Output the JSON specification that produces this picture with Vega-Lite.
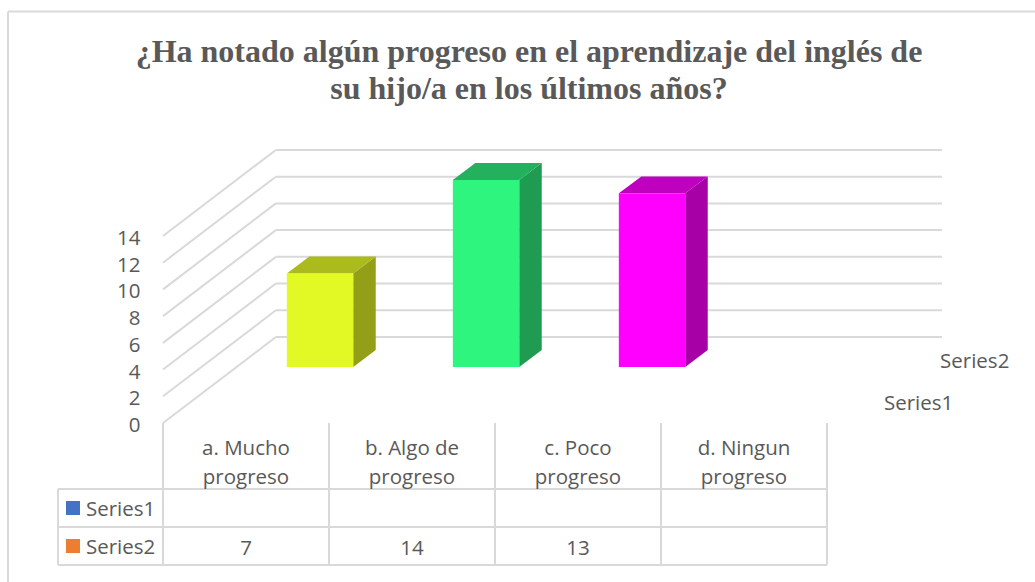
{
"$schema":"https://vega.github.io/schema/vega-lite/v6.json",
"width":1035,"height":582,"padding":0,"autosize":{"type":"none"},"background":"white",
"config":{"view":{"stroke":null},"font":"Open Sans"},
"title":{"text":["¿Ha notado algún progreso en el aprendizaje del inglés de","su hijo/a en los últimos años?"],"font":"Liberation Serif","fontWeight":"bold","fontSize":32,"lineHeight":37,"color":"#595959","anchor":"middle","frame":"group","dx":11.5,"orient":"top","baseline":"top","offset":-106},
"datasets":{
"rows":[
{"category":"a. Mucho progreso","pos":0,"series":"Series1","s":1,"value":null},
{"category":"b. Algo de progreso","pos":1,"series":"Series1","s":1,"value":null},
{"category":"c. Poco progreso","pos":2,"series":"Series1","s":1,"value":null},
{"category":"d. Ningun progreso","pos":3,"series":"Series1","s":1,"value":null},
{"category":"a. Mucho progreso","pos":0,"series":"Series2","s":2,"value":7},
{"category":"b. Algo de progreso","pos":1,"series":"Series2","s":2,"value":14},
{"category":"c. Poco progreso","pos":2,"series":"Series2","s":2,"value":13},
{"category":"d. Ningun progreso","pos":3,"series":"Series2","s":2,"value":null}
],
"ticks":[{"tick":0},{"tick":2},{"tick":4},{"tick":6},{"tick":8},{"tick":10},{"tick":12},{"tick":14}],
"edges":[{"edge":0},{"edge":1},{"edge":2},{"edge":3},{"edge":4}],
"tableRows":[{"line":0},{"line":1},{"line":2}],
"seriesNames":[{"series":"Series1","s":1,"swatch":"#4472C4"},{"series":"Series2","s":2,"swatch":"#ED7D31"}]
},
"resolve":{"scale":{"color":"independent"}},
"layer":[
{"data":{"name":"ticks"},
 "mark":{"type":"rule","color":"#D9D9D9","strokeWidth":2},
 "transform":[{"calculate":"datum.tick+6.437","as":"yBack"}],
 "encoding":{"x":{"datum":0,"type":"quantitative","scale":{"domain":[-0.98193,5.25301],"nice":false,"zero":false},"axis":null},
 "x2":{"datum":0.68},
 "y":{"field":"tick","type":"quantitative","scale":{"domain":[-11.9012,31.6617],"nice":false,"zero":false},
  "axis":{"values":[0,2,4,6,8,10,12,14],"orient":"left","offset":-140,"domain":false,"ticks":false,"grid":false,"labels":true,"labelPadding":0,"labelOffset":2.5,"labelFontSize":20.5,"labelFont":"Open Sans","labelColor":"#595959","title":null}},
 "y2":{"field":"yBack"}}},
{"data":{"name":"ticks"},"transform":[{"calculate":"datum.tick+6.437","as":"yBack"}],
 "mark":{"type":"rule","color":"#D9D9D9","strokeWidth":2},
 "encoding":{"x":{"datum":0.68,"type":"quantitative","scale":{"domain":[-0.98193,5.25301],"nice":false,"zero":false},"axis":null},
 "x2":{"datum":4.693},
 "y":{"field":"yBack","type":"quantitative","scale":{"domain":[-11.9012,31.6617],"nice":false,"zero":false}}}},
{"data":{"name":"rows"},"transform":[{"filter":"isValid(datum.value)"},{"calculate":"datum.pos+0.746","as":"x0"},{"calculate":"datum.x0+0.4","as":"x1"},{"calculate":"datum.value+4.19","as":"yt"},{"calculate":"0","as":"front"},{"calculate":"1","as":"back"},{"fold":["front","back"],"as":["face","d"]},{"calculate":"datum.x1+datum.d*0.1355","as":"fx"},{"calculate":"datum.yt+datum.d*1.27","as":"fy"},{"calculate":"4.19+datum.d*1.27","as":"fb"}],
 "mark":{"type":"area"},
 "encoding":{"x":{"field":"fx","type":"quantitative","scale":{"domain":[-0.98193,5.25301],"nice":false,"zero":false},"axis":null},
 "y":{"field":"fy","type":"quantitative","scale":{"domain":[-11.9012,31.6617],"nice":false,"zero":false}},
 "y2":{"field":"fb"},"detail":{"field":"category"},
 "color":{"field":"category","type":"nominal","legend":null,"scale":{"domain":["a. Mucho progreso","b. Algo de progreso","c. Poco progreso"],"range":["#949F18","#1F9B52","#A600A6"]}}}},
{"data":{"name":"rows"},"transform":[{"filter":"isValid(datum.value)"},{"calculate":"datum.pos+0.746","as":"x0"},{"calculate":"datum.x0+0.4","as":"x1"},{"calculate":"datum.value+4.19","as":"yt"},{"calculate":"0","as":"front"},{"calculate":"1","as":"back"},{"fold":["front","back"],"as":["face","d"]},{"calculate":"datum.x0+datum.d*0.1355","as":"xl"},{"calculate":"datum.x1+datum.d*0.1355","as":"xr"},{"calculate":"datum.yt+datum.d*1.27","as":"fy"}],
 "mark":{"type":"area","orient":"horizontal"},
 "encoding":{"y":{"field":"fy","type":"quantitative","scale":{"domain":[-11.9012,31.6617],"nice":false,"zero":false}},
 "x":{"field":"xl","type":"quantitative","scale":{"domain":[-0.98193,5.25301],"nice":false,"zero":false},"axis":null},
 "x2":{"field":"xr"},"detail":{"field":"category"},
 "color":{"field":"category","type":"nominal","legend":null,"scale":{"domain":["a. Mucho progreso","b. Algo de progreso","c. Poco progreso"],"range":["#ABBA1C","#24B15D","#BF00BF"]}}}},
{"data":{"name":"rows"},"transform":[{"filter":"isValid(datum.value)"},{"calculate":"datum.pos+0.746","as":"x0"},{"calculate":"datum.x0+0.4","as":"x1"},{"calculate":"datum.value+4.19","as":"yt"},{"calculate":"4.19","as":"yb"}],
 "mark":{"type":"rect"},
 "encoding":{"x":{"field":"x0","type":"quantitative","scale":{"domain":[-0.98193,5.25301],"nice":false,"zero":false},"axis":null},"x2":{"field":"x1"},
 "y":{"field":"yt","type":"quantitative","scale":{"domain":[-11.9012,31.6617],"nice":false,"zero":false}},"y2":{"field":"yb"},
 "color":{"field":"category","type":"nominal","legend":null,"scale":{"domain":["a. Mucho progreso","b. Algo de progreso","c. Poco progreso"],"range":["#E3F926","#2EF57E","#FF00FF"]}}}},
{"data":{"name":"edges"},
 "mark":{"type":"rule","color":"#D9D9D9","strokeWidth":2},
 "encoding":{"x":{"field":"edge","type":"quantitative","scale":{"domain":[-0.98193,5.25301],"nice":false,"zero":false},"axis":null},
 "y":{"datum":0,"type":"quantitative","scale":{"domain":[-11.9012,31.6617],"nice":false,"zero":false}},"y2":{"datum":-10.63}}},
{"data":{"name":"tableRows"},"transform":[{"calculate":"-4.94-datum.line*2.845","as":"ly"}],
 "mark":{"type":"rule","color":"#D9D9D9","strokeWidth":2},
 "encoding":{"x":{"datum":-0.6325,"type":"quantitative","scale":{"domain":[-0.98193,5.25301],"nice":false,"zero":false},"axis":null},"x2":{"datum":4},
 "y":{"field":"ly","type":"quantitative","scale":{"domain":[-11.9012,31.6617],"nice":false,"zero":false}}}},
{"mark":{"type":"rule","color":"#D9D9D9","strokeWidth":2},"data":{"values":[{"part":"table left"}]},
 "encoding":{"x":{"datum":-0.6325,"type":"quantitative","scale":{"domain":[-0.98193,5.25301],"nice":false,"zero":false},"axis":null},
 "y":{"datum":-4.94,"type":"quantitative","scale":{"domain":[-11.9012,31.6617],"nice":false,"zero":false}},"y2":{"datum":-10.63}}},
{"mark":{"type":"rule","color":"#D9D9D9","strokeWidth":2},"data":{"values":[{"part":"frame left"}]},
 "encoding":{"x":{"datum":-0.9337,"type":"quantitative","scale":{"domain":[-0.98193,5.25301],"nice":false,"zero":false},"axis":null},
 "y":{"datum":30.8,"type":"quantitative","scale":{"domain":[-11.9012,31.6617],"nice":false,"zero":false}},"y2":{"datum":-11.9}}},
{"mark":{"type":"rule","color":"#D9D9D9","strokeWidth":2},"data":{"values":[{"part":"frame top"}]},
 "encoding":{"x":{"datum":-0.9337,"type":"quantitative","scale":{"domain":[-0.98193,5.25301],"nice":false,"zero":false},"axis":null},"x2":{"datum":5.253},
 "y":{"datum":30.8,"type":"quantitative","scale":{"domain":[-11.9012,31.6617],"nice":false,"zero":false}}}},
{"data":{"name":"rows"},"transform":[{"filter":"datum.s==2"},{"calculate":"datum.pos+0.5","as":"cx"},{"calculate":"replace(datum.category,' progreso','\\nprogreso')","as":"label"},{"calculate":"-1.95","as":"cy"}],
 "mark":{"type":"text","fontSize":20.5,"color":"#595959","align":"center","baseline":"middle","lineBreak":"\n","lineHeight":29,"font":"Open Sans"},
 "encoding":{"x":{"field":"cx","type":"quantitative","scale":{"domain":[-0.98193,5.25301],"nice":false,"zero":false},"axis":null},
 "y":{"field":"cy","type":"quantitative","scale":{"domain":[-11.9012,31.6617],"nice":false,"zero":false}},"text":{"field":"label"}}},
{"data":{"name":"rows"},"transform":[{"filter":"isValid(datum.value)"},{"calculate":"datum.pos+0.5","as":"cx"},{"calculate":"-6.56-(datum.s-1)*2.845","as":"cy"}],
 "mark":{"type":"text","fontSize":20.5,"color":"#595959","align":"center","baseline":"middle","font":"Open Sans"},
 "encoding":{"x":{"field":"cx","type":"quantitative","scale":{"domain":[-0.98193,5.25301],"nice":false,"zero":false},"axis":null},
 "y":{"field":"cy","type":"quantitative","scale":{"domain":[-11.9012,31.6617],"nice":false,"zero":false}},"text":{"field":"value","type":"quantitative"}}},
{"data":{"name":"seriesNames"},"transform":[{"calculate":"-6.5-(datum.s-1)*2.845","as":"cy"}],
 "mark":{"type":"text","fontSize":20.5,"color":"#595959","align":"left","baseline":"middle","font":"Open Sans"},
 "encoding":{"x":{"datum":-0.4639,"type":"quantitative","scale":{"domain":[-0.98193,5.25301],"nice":false,"zero":false},"axis":null},
 "y":{"field":"cy","type":"quantitative","scale":{"domain":[-11.9012,31.6617],"nice":false,"zero":false}},"text":{"field":"series"}}},
{"data":{"name":"seriesNames"},"transform":[{"calculate":"-6.362-(datum.s-1)*2.845","as":"cy"}],
 "mark":{"type":"point","shape":"square","filled":true,"size":196,"opacity":1},
 "encoding":{"x":{"datum":-0.5422,"type":"quantitative","scale":{"domain":[-0.98193,5.25301],"nice":false,"zero":false},"axis":null},
 "y":{"field":"cy","type":"quantitative","scale":{"domain":[-11.9012,31.6617],"nice":false,"zero":false}},
 "color":{"field":"series","type":"nominal","legend":null,"scale":{"domain":["Series1","Series2"],"range":["#4472C4","#ED7D31"]}}}},
{"data":{"name":"seriesNames"},"transform":[{"calculate":"4.343+(datum.s-1)*0.338","as":"lx"},{"calculate":"1.44+(datum.s-1)*3.144","as":"ly"}],
 "mark":{"type":"text","fontSize":20.5,"color":"#595959","align":"left","baseline":"middle","font":"Open Sans"},
 "encoding":{"x":{"field":"lx","type":"quantitative","scale":{"domain":[-0.98193,5.25301],"nice":false,"zero":false},"axis":null},
 "y":{"field":"ly","type":"quantitative","scale":{"domain":[-11.9012,31.6617],"nice":false,"zero":false}},"text":{"field":"series"}}}
]}
